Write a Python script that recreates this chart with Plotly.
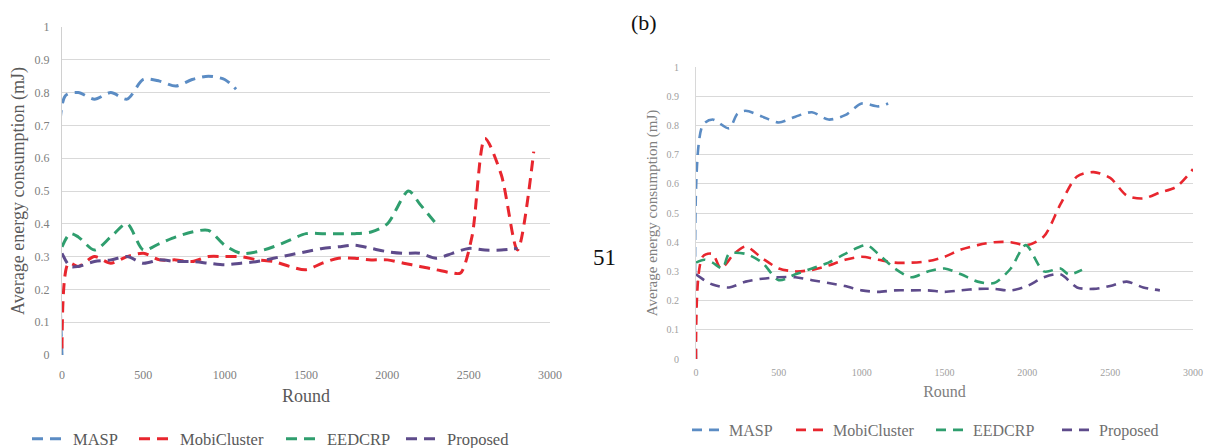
import plotly.graph_objects as go

# ---------------- data: chart (a) ----------------
a_masp_x = [0, 20, 100, 200, 300, 400, 500, 600, 700, 800, 900, 1000, 1070]
a_masp_y = [0.0, 0.79, 0.80, 0.78, 0.80, 0.78, 0.84, 0.835, 0.82, 0.84, 0.85, 0.84, 0.81]

a_mobi_x = [0, 40, 100, 200, 300, 400, 500, 600, 700, 800, 900, 1000, 1100, 1200, 1300, 1400,
            1500, 1600, 1700, 1800, 1900, 2000, 2100, 2200, 2300, 2400, 2450, 2520, 2600, 2700, 2800, 2900]
a_mobi_y = [0.02, 0.28, 0.27, 0.30, 0.28, 0.30, 0.31, 0.29, 0.29, 0.285, 0.30, 0.30, 0.30, 0.29, 0.285, 0.27,
            0.26, 0.28, 0.295, 0.295, 0.29, 0.29, 0.28, 0.27, 0.26, 0.25, 0.25, 0.36, 0.66, 0.55, 0.32, 0.62]

a_eed_x = [0, 50, 100, 200, 300, 400, 500, 600, 700, 800, 900, 1000, 1100, 1200, 1300, 1400,
           1500, 1600, 1700, 1800, 1900, 2000, 2130, 2200, 2300]
a_eed_y = [0.33, 0.37, 0.36, 0.32, 0.36, 0.40, 0.32, 0.34, 0.36, 0.375, 0.38, 0.335, 0.31, 0.315, 0.33, 0.35,
           0.37, 0.37, 0.37, 0.37, 0.375, 0.40, 0.50, 0.46, 0.40]

a_prop_x = [0, 50, 100, 200, 300, 400, 500, 600, 700, 800, 900, 1000, 1100, 1200, 1300, 1400,
            1500, 1600, 1700, 1800, 1900, 2000, 2100, 2200, 2300, 2400, 2500, 2600, 2700, 2800]
a_prop_y = [0.31, 0.27, 0.27, 0.285, 0.29, 0.30, 0.28, 0.29, 0.285, 0.285, 0.28, 0.275, 0.28, 0.285, 0.295, 0.305,
            0.315, 0.325, 0.33, 0.335, 0.325, 0.315, 0.31, 0.31, 0.295, 0.31, 0.325, 0.32, 0.32, 0.325]

# ---------------- data: chart (b) ----------------
b_masp_x = [0, 40, 100, 200, 250, 300, 400, 500, 600, 700, 800, 900, 1000, 1100, 1160]
b_masp_y = [0.0, 0.80, 0.82, 0.79, 0.84, 0.85, 0.83, 0.81, 0.83, 0.845, 0.82, 0.835, 0.875, 0.865, 0.875]

b_mobi_x = [0, 40, 100, 150, 230, 300, 400, 500, 600, 700, 800, 900, 1000, 1100, 1200, 1300, 1400,
            1500, 1600, 1700, 1800, 1900, 2000, 2100, 2200, 2300, 2400, 2500, 2600, 2700, 2800, 2900, 3000]
b_mobi_y = [0.0, 0.35, 0.36, 0.31, 0.36, 0.385, 0.345, 0.31, 0.30, 0.305, 0.32, 0.34, 0.35, 0.34, 0.33, 0.33, 0.335,
            0.35, 0.375, 0.39, 0.40, 0.40, 0.39, 0.42, 0.53, 0.625, 0.64, 0.62, 0.56, 0.55, 0.57, 0.59, 0.65]

b_eed_x = [0, 50, 100, 160, 200, 300, 400, 500, 600, 700, 800, 900, 1030, 1100, 1200, 1300, 1400,
           1500, 1600, 1700, 1800, 1900, 1990, 2100, 2200, 2250, 2330]
b_eed_y = [0.33, 0.34, 0.33, 0.31, 0.36, 0.36, 0.33, 0.27, 0.29, 0.31, 0.33, 0.36, 0.39, 0.36, 0.31, 0.28, 0.30,
           0.31, 0.29, 0.265, 0.26, 0.31, 0.39, 0.30, 0.31, 0.29, 0.305]

b_prop_x = [0, 50, 100, 200, 300, 400, 500, 600, 700, 800, 900, 1000, 1100, 1200, 1300, 1400,
            1500, 1600, 1700, 1800, 1900, 2000, 2100, 2200, 2300, 2400, 2500, 2600, 2700, 2800]
b_prop_y = [0.29, 0.27, 0.255, 0.245, 0.265, 0.275, 0.28, 0.28, 0.27, 0.26, 0.25, 0.235, 0.23, 0.235, 0.235, 0.235,
            0.23, 0.235, 0.24, 0.24, 0.235, 0.25, 0.28, 0.29, 0.245, 0.24, 0.25, 0.265, 0.245, 0.235]

series_names = ["MASP", "MobiCluster", "EEDCRP", "Proposed"]
series_colors = ["#5b8cc4", "#e8262e", "#2f9e6e", "#5e4b8b"]

y_ticks = [0, 0.1, 0.2, 0.3, 0.4, 0.5, 0.6, 0.7, 0.8, 0.9, 1]
y_tick_text = ["0", "0.1", "0.2", "0.3", "0.4", "0.5", "0.6", "0.7", "0.8", "0.9", "1"]
x_ticks = [0, 500, 1000, 1500, 2000, 2500, 3000]
x_tick_text = ["0", "500", "1000", "1500", "2000", "2500", "3000"]

# the page's body margin is removed (see post_script), so figure px == screen px
OFF = 0
W, H = 1209 - OFF, 448 - OFF
SERIF = "Liberation Serif"

# screen positions of the legend entries (start of each legend line)
legend_a_pos = [33, 140, 287, 407]
legend_b_pos = [693, 797, 937, 1063]
LEG_A_Y, LEG_B_Y = 439, 430


def px_x(p):
    return (p - OFF) / W


def px_y(p):
    return 1 - (p - OFF) / H


fig = go.Figure()

a_sets = [(a_masp_x, a_masp_y), (a_mobi_x, a_mobi_y), (a_eed_x, a_eed_y), (a_prop_x, a_prop_y)]
b_sets = [(b_masp_x, b_masp_y), (b_mobi_x, b_mobi_y), (b_eed_x, b_eed_y), (b_prop_x, b_prop_y)]

legend_layouts = {}
for i, ((xs, ys), name, col) in enumerate(zip(a_sets, series_names, series_colors)):
    lg = "legend" if i == 0 else f"legend{i + 1}"
    fig.add_trace(go.Scatter(x=xs, y=ys, name=name, mode="lines", showlegend=True,
                             line=dict(color=col, width=3, dash="11px,7px", shape="spline", smoothing=0.8),
                             xaxis="x", yaxis="y", legend=lg))
    legend_layouts[lg] = dict(orientation="h", x=px_x(legend_a_pos[i] - 6), y=px_y(LEG_A_Y),
                              xanchor="left", yanchor="middle", itemwidth=36, visible=True,
                              font=dict(size=16.5, family=SERIF, color="#595959"),
                              bgcolor="rgba(0,0,0,0)")
for i, ((xs, ys), name, col) in enumerate(zip(b_sets, series_names, series_colors)):
    lg = f"legend{i + 5}"
    fig.add_trace(go.Scatter(x=xs, y=ys, name=name, mode="lines", showlegend=True,
                             line=dict(color=col, width=2.6, dash="10px,7px", shape="spline", smoothing=0.8),
                             xaxis="x2", yaxis="y2", legend=lg))
    legend_layouts[lg] = dict(orientation="h", x=px_x(legend_b_pos[i] - 6), y=px_y(LEG_B_Y),
                              xanchor="left", yanchor="middle", itemwidth=32, visible=True,
                              font=dict(size=16, family=SERIF, color="#707070"),
                              bgcolor="rgba(0,0,0,0)")

common_x = dict(range=[0, 3000], tickvals=x_ticks, ticktext=x_tick_text, showgrid=False,
                zeroline=False, showline=False, ticks="", automargin=False, ticklabeloverflow="allow")
common_y = dict(range=[0, 1], tickvals=y_ticks, ticktext=y_tick_text, showgrid=True,
                gridcolor="#d9d9d9", gridwidth=1, zeroline=False, ticks="", automargin=False,
                ticklabeloverflow="allow")

fig.update_layout(
    width=W, height=H,
    showlegend=True,
    margin=dict(l=0, r=0, t=0, b=0, autoexpand=False),
    paper_bgcolor="white", plot_bgcolor="white",
    font=dict(family=SERIF, color="#595959"),
    xaxis=dict(domain=[px_x(62), px_x(550)], anchor="y", ticklabelstandoff=11,
               title=dict(text="Round", font=dict(size=18, family=SERIF, color="#595959"), standoff=8),
               tickfont=dict(size=12, family=SERIF, color="#808080"), **common_x),
    yaxis=dict(domain=[px_y(355), px_y(27)], anchor="x", ticklabelstandoff=9,
               title=dict(text="Average energy consumption (mJ)", font=dict(size=18, family=SERIF, color="#595959"), standoff=5),
               tickfont=dict(size=12, family=SERIF, color="#808080"),
               showline=True, linecolor="#d0d0d0", **common_y),
    xaxis2=dict(domain=[px_x(696), px_x(1193)], anchor="y2", ticklabelstandoff=6,
                title=dict(text="Round", font=dict(size=16, family=SERIF, color="#808080"), standoff=8),
                tickfont=dict(size=10, family=SERIF, color="#a0a0a0"), **common_x),
    yaxis2=dict(domain=[px_y(359), px_y(67)], anchor="x2", ticklabelstandoff=14,
                title=dict(text="Average energy consumption (mJ)", font=dict(size=15, family=SERIF, color="#808080"), standoff=5),
                tickfont=dict(size=10, family=SERIF, color="#a0a0a0"),
                showline=True, linecolor="#d8d8d8", **common_y),
    annotations=[
        dict(text="(b)", x=px_x(644), y=px_y(23), xref="paper", yref="paper", showarrow=False,
             xanchor="center", yanchor="middle",
             font=dict(size=22, family=SERIF, color="#111111")),
        dict(text="51", x=px_x(605), y=px_y(257), xref="paper", yref="paper", showarrow=False,
             xanchor="center", yanchor="middle",
             font=dict(size=23, family=SERIF, color="#111111")),
    ],
    **legend_layouts,
)

fig.write_html(
    "out.html",
    config={"displayModeBar": False},
    post_script="document.body.style.margin='0px';document.documentElement.style.overflow='hidden';",
)
